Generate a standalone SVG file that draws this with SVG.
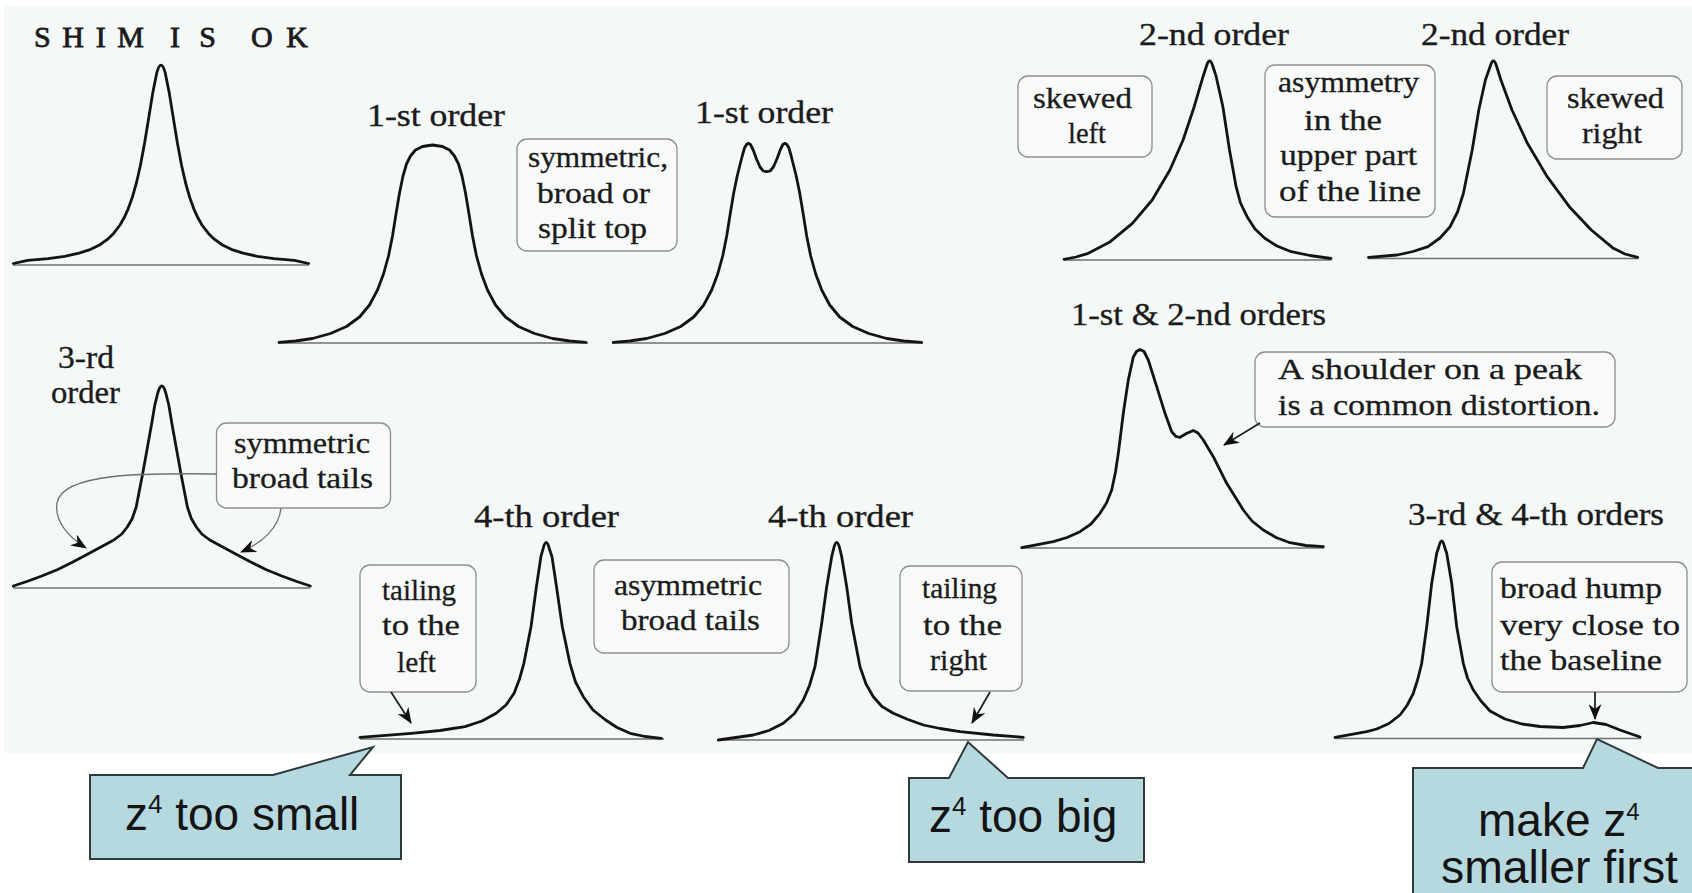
<svg xmlns="http://www.w3.org/2000/svg" width="1692" height="893" viewBox="0 0 1692 893">
<style>
.peak{fill:none;stroke:#141414;stroke-width:2.8;stroke-linejoin:round;stroke-linecap:round}
.base{stroke:#707070;stroke-width:1.4}
.lbl{font-family:"Liberation Serif","Times New Roman",serif;font-size:32px;fill:#1b1b1b;stroke:#1b1b1b;stroke-width:0.35}
.hd{font-family:"Liberation Serif","Times New Roman",serif;font-size:30px;fill:#1b1b1b;stroke:#1b1b1b;stroke-width:0.8}
.bx{fill:#f8faf9;stroke:#8e8e8e;stroke-width:1.3}
.bt{font-family:"Liberation Serif","Times New Roman",serif;font-size:29px;fill:#1b1b1b;stroke:#1b1b1b;stroke-width:0.3}
.call{fill:#b6d9e0;stroke:#2e3a3c;stroke-width:2;stroke-linejoin:miter}
.ct{font-family:"Liberation Sans",Arial,sans-serif;font-size:46px;fill:#141414}
.conn{fill:none;stroke:#222;stroke-width:1.8}
.conn2{fill:none;stroke:#707070;stroke-width:1.3}
</style>
<defs>
<marker id="arr" markerUnits="userSpaceOnUse" markerWidth="16" markerHeight="13" viewBox="0 0 16 13" refX="15" refY="6.5" orient="auto"><path d="M0,0 L16,6.5 L0,13 L5,6.5 z" fill="#111"/></marker>
</defs>
<rect x="0" y="0" width="1692" height="893" fill="#ffffff"/>
<rect x="4" y="6" width="1688" height="747" fill="#f4f8f7"/>

<g id="peak-ok">
<text class="hd" x="34" y="47" textLength="110">SHIM</text>
<text class="hd" x="170" y="47" textLength="46">IS</text>
<text class="hd" x="251" y="47" textLength="57">OK</text>
<line class="base" x1="13" y1="265" x2="309" y2="265"/>
<path class="peak" d="M13.4,263.5 L27.7,260.4 L48.2,258.6 L64.6,256.3 L79,253.2 L89.2,249.9 L99.5,245 L107.7,239.2 L113.8,233.2 L120,225 L124.1,217.8 L128.2,208.8 L132.3,197.4 L136.4,183 L140.5,165 L144.6,143 L148.7,117.9 L152.8,92.6 L156.9,72.3 Q161,58 165.1,72.3 L169.2,92.6 L173.3,117.9 L177.4,143 L181.5,165 L185.6,183 L189.7,197.4 L193.8,208.8 L197.9,217.8 L202,225 L208.2,233.2 L214.3,239.2 L222.5,245 L232.8,249.9 L243,253.2 L257.4,256.3 L273.8,258.6 L294.3,260.4 L308.6,263.5"/>
</g>

<g id="peak-1st-broad">
<text class="lbl" x="367" y="126" textLength="138" lengthAdjust="spacingAndGlyphs">1-st order</text>
<line class="base" x1="278" y1="343" x2="588" y2="343"/>
<path class="peak" d="M279,342.3 L295.5,341 L312.5,338.5 L330.5,333.5 L346.5,326.5 L359.5,317 L369.5,305 L377.5,290 L383.5,274 L388.5,256 L392.5,236 L396,214 L399.5,193 L403,176 L406.5,164 L410.5,156 L415.5,150 L422.5,146.5 L432.5,145 L442.5,146.5 L449.5,150 L454.5,156 L458.5,164 L462,176 L465.5,193 L469,214 L472.5,236 L476.5,256 L481.5,274 L487.5,290 L495.5,305 L505.5,317 L518.5,326.5 L534.5,333.5 L552.5,338.5 L569.5,341 L586,342.3"/>
</g>

<g id="box-split">
<rect class="bx" x="517" y="139" width="160" height="112" rx="10"/>
<text class="bt" x="528" y="167" textLength="140" lengthAdjust="spacingAndGlyphs">symmetric,</text>
<text class="bt" x="537" y="203" textLength="113" lengthAdjust="spacingAndGlyphs">broad or</text>
<text class="bt" x="538" y="238" textLength="109" lengthAdjust="spacingAndGlyphs">split top</text>
</g>

<g id="peak-1st-split">
<text class="lbl" x="695" y="123" textLength="138" lengthAdjust="spacingAndGlyphs">1-st order</text>
<line class="base" x1="612" y1="343" x2="923" y2="343"/>
<path class="peak" d="M613.2,342.3 L629.7,341 L646.7,338.5 L664.7,333.5 L680.7,326.5 L693.7,317 L703.7,305 L711.7,290 L717.7,274 L722.7,256 L726.7,236 L730.2,214 L733.7,193 L737.2,176 L740.2,164 L742.5,155 L744.5,148 L746.5,144.5 L748.4,143.3 L750.5,144.5 L753,149.5 L756.5,159 L760,167 L763.3,171 L766.7,171.7 L770.1,171 L773.4,167 L776.9,159 L780.4,149.5 L782.9,144.5 L785,143.3 L786.9,144.5 L788.9,148 L790.9,155 L793.2,164 L796.2,176 L799.7,193 L803.2,214 L806.7,236 L810.7,256 L815.7,274 L821.7,290 L829.7,305 L839.7,317 L852.7,326.5 L868.7,333.5 L886.7,338.5 L903.7,341 L921.7,342.3"/>
</g>

<g id="box-skewed-left">
<rect class="bx" x="1018" y="76" width="134" height="81" rx="10"/>
<text class="bt" x="1033" y="108" textLength="99" lengthAdjust="spacingAndGlyphs">skewed</text>
<text class="bt" x="1068" y="143" textLength="38" lengthAdjust="spacingAndGlyphs">left</text>
</g>

<g id="peak-2nd-left">
<text class="lbl" x="1139" y="45" textLength="150" lengthAdjust="spacingAndGlyphs">2-nd order</text>
<line class="base" x1="1064" y1="260" x2="1331" y2="260"/>
<path class="peak" d="M1064,259.3 L1076,257 L1088.3,253.3 L1110.3,241.7 L1132.4,223.3 L1152.2,200 L1169.9,170 L1183.1,140 L1194.2,106.7 L1203,76.7 L1206.5,66 Q1209.6,56 1212.8,66 L1216.2,76.7 L1222.9,106.7 L1229.5,150 L1236.1,186.7 L1240.5,203 L1247.1,216.7 L1255,229 L1264.8,238.3 L1277,246 L1291.3,251.7 L1310,255.5 L1331,258.5"/>
</g>

<g id="box-asymmetry">
<rect class="bx" x="1265" y="65" width="170" height="152" rx="10"/>
<text class="bt" x="1278" y="92" textLength="141" lengthAdjust="spacingAndGlyphs">asymmetry</text>
<text class="bt" x="1304" y="130" textLength="78" lengthAdjust="spacingAndGlyphs">in the</text>
<text class="bt" x="1280" y="165" textLength="137" lengthAdjust="spacingAndGlyphs">upper part</text>
<text class="bt" x="1279" y="201" textLength="142" lengthAdjust="spacingAndGlyphs">of the line</text>
</g>

<g id="peak-2nd-right">
<text class="lbl" x="1421" y="45" textLength="148" lengthAdjust="spacingAndGlyphs">2-nd order</text>
<line class="base" x1="1368" y1="258.5" x2="1638" y2="258.5"/>
<path class="peak" d="M1368.5,257.3 L1397.2,255 L1413,251.5 L1428,246.7 L1440,238 L1450.1,226.7 L1457.5,212 L1463.4,193.3 L1472.2,150 L1478.8,110 L1485.4,80 L1490.3,66 Q1493.4,56 1496.5,66 L1500.9,80 L1512,110 L1527.4,143.3 L1547.2,176.7 L1569.3,206.7 L1591.3,230 L1613.4,248.3 L1625,254 L1637.7,257.3"/>
</g>

<g id="box-skewed-right">
<rect class="bx" x="1547" y="76" width="135" height="83" rx="10"/>
<text class="bt" x="1567" y="108" textLength="97" lengthAdjust="spacingAndGlyphs">skewed</text>
<text class="bt" x="1582" y="143" textLength="60" lengthAdjust="spacingAndGlyphs">right</text>
</g>

<g id="peak-shoulder">
<text class="lbl" x="1071" y="325" textLength="255" lengthAdjust="spacingAndGlyphs">1-st &amp; 2-nd orders</text>
<line class="base" x1="1021" y1="548" x2="1324" y2="548"/>
<path class="peak" d="M1021.7,547.7 L1053.3,541.7 L1067,537.5 L1080,531.7 L1091,524 L1100,513.3 L1106.5,503 L1111.7,490 L1115.5,472 L1118.3,453.3 L1123.3,413.3 L1128.3,380 L1133.3,357 L1136.5,351.5 L1140,349.5 L1144,351.5 L1148.3,360 L1156.7,386.7 L1165,413.3 L1171.7,431.7 L1176,436.5 L1180,437.3 L1186.5,433.5 L1193.3,430.5 L1198,433 L1203.3,440 L1213.3,456.7 L1226.7,483.3 L1243.3,510 L1252,521 L1263.3,530 L1276,537.5 L1290,542.7 L1306,545.5 L1323.3,546.7"/>
</g>

<g id="box-shoulder">
<rect class="bx" x="1255" y="352" width="360" height="75" rx="10"/>
<text class="bt" x="1278" y="379" textLength="304" lengthAdjust="spacingAndGlyphs">A shoulder on a peak</text>
<text class="bt" x="1278" y="415" textLength="322" lengthAdjust="spacingAndGlyphs">is a common distortion.</text>
</g>

<g id="peak-3rd">
<text class="lbl" x="58" y="368" textLength="56" lengthAdjust="spacingAndGlyphs">3-rd</text>
<text class="lbl" x="51" y="403" textLength="69" lengthAdjust="spacingAndGlyphs">order</text>
<line class="base" x1="13" y1="588" x2="310" y2="588"/>
<path class="peak" d="M13.3,586 L26.8,581.5 L41.8,576 L57.8,569.5 L73.8,561.5 L89.8,553 L101.8,546.5 L113.8,540 L121.8,534 L127.3,527 L132.3,518.5 L136.2,507 L139.3,491 L142.8,473 L147.3,448 L151.8,423 L154.8,405 L157.8,393 Q161.8,379 165.8,393 L168.8,405 L171.8,423 L176.3,448 L180.8,473 L184.3,491 L187.4,507 L191.3,518.5 L196.3,527 L201.8,534 L209.8,540 L221.8,546.5 L233.8,553 L249.8,561.5 L265.8,569.5 L281.8,576 L296.8,581.5 L310.3,586"/>
</g>

<g id="box-sym-tails">
<rect class="bx" x="216.5" y="423" width="174" height="85" rx="10"/>
<text class="bt" x="234" y="453" textLength="136" lengthAdjust="spacingAndGlyphs">symmetric</text>
<text class="bt" x="232" y="488" textLength="141" lengthAdjust="spacingAndGlyphs">broad tails</text>
</g>

<g id="box-tail-left">
<rect class="bx" x="360" y="565" width="116" height="127" rx="10"/>
<text class="bt" x="382" y="600" textLength="74" lengthAdjust="spacingAndGlyphs">tailing</text>
<text class="bt" x="382" y="635" textLength="78" lengthAdjust="spacingAndGlyphs">to the</text>
<text class="bt" x="397" y="672" textLength="39" lengthAdjust="spacingAndGlyphs">left</text>
</g>

<g id="peak-4th-left">
<text class="lbl" x="474" y="527" textLength="145" lengthAdjust="spacingAndGlyphs">4-th order</text>
<line class="base" x1="360" y1="739" x2="664" y2="739"/>
<path class="peak" d="M360,737.3 L411.4,733.3 L440,730.5 L465,726.7 L482,721 L496.2,713.3 L506,705 L514.1,693.3 L519.5,679 L523.9,663.3 L531,626.7 L536.4,586.7 L540.9,556.7 L543.3,548 Q546.2,537 549.1,548 L552,556.7 L556.5,586.7 L562.3,626.7 L569.9,663.3 L575.5,682 L583.3,696.7 L593,710 L605.6,720 L617,727.5 L630.2,733.3 L645,736.5 L661.4,738.3"/>
</g>

<g id="box-asym-tails">
<rect class="bx" x="594" y="560" width="195" height="93" rx="10"/>
<text class="bt" x="614" y="595" textLength="148" lengthAdjust="spacingAndGlyphs">asymmetric</text>
<text class="bt" x="621" y="630" textLength="139" lengthAdjust="spacingAndGlyphs">broad tails</text>
</g>

<g id="peak-4th-right">
<text class="lbl" x="768" y="527" textLength="145" lengthAdjust="spacingAndGlyphs">4-th order</text>
<line class="base" x1="718" y1="740" x2="1024" y2="740"/>
<path class="peak" d="M718.3,740 L753.3,735 L769,730.5 L783.3,723.3 L794.5,713.5 L803.3,700 L809.5,685.5 L815,666.7 L821.7,623.3 L826.7,586.7 L831.7,556.7 L833.8,548 Q836.7,537 839.6,548 L841.7,556.7 L846.7,586.7 L851.7,623.3 L860,666.7 L866,684 L873.3,696.7 L882,706.5 L893.3,713.3 L908,719.5 L923.3,725 L940,728.5 L960,731.7 L993.3,735 L1023.3,737.3"/>
</g>

<g id="box-tail-right">
<rect class="bx" x="900" y="566" width="122" height="125" rx="10"/>
<text class="bt" x="922" y="598" textLength="75" lengthAdjust="spacingAndGlyphs">tailing</text>
<text class="bt" x="923" y="635" textLength="79" lengthAdjust="spacingAndGlyphs">to the</text>
<text class="bt" x="930" y="670" textLength="57" lengthAdjust="spacingAndGlyphs">right</text>
</g>

<g id="peak-3rd-4th">
<text class="lbl" x="1408" y="525" textLength="256" lengthAdjust="spacingAndGlyphs">3-rd &amp; 4-th orders</text>
<line class="base" x1="1335" y1="738.5" x2="1641" y2="738.5"/>
<path class="peak" d="M1335,737.3 L1366.7,731.7 L1376.7,729 L1389,723.5 L1400,715 L1407,705.5 L1413.3,693.3 L1417.7,679.5 L1421.7,663.3 L1426.7,626.7 L1431.7,583.3 L1436.7,553.3 L1438.8,547 Q1441.7,535 1444.6,547 L1446.7,553.3 L1451.7,583.3 L1456.7,626.7 L1463.3,663.3 L1467.5,678 L1473.3,690 L1481,701 L1490,711 L1505,719 L1522,724 L1540,726.5 L1563,727.5 L1580,725.5 L1593.3,722.5 L1606,724.5 L1620,730 L1640,737"/>
</g>

<g id="box-hump">
<rect class="bx" x="1492" y="562" width="195" height="130" rx="10"/>
<text class="bt" x="1500" y="598" textLength="162" lengthAdjust="spacingAndGlyphs">broad hump</text>
<text class="bt" x="1500" y="635" textLength="180" lengthAdjust="spacingAndGlyphs">very close to</text>
<text class="bt" x="1500" y="670" textLength="162" lengthAdjust="spacingAndGlyphs">the baseline</text>
</g>

<g id="connectors">
<path class="conn2" d="M217,474 C150,473 62,472 57,503 C54,522 70,538 86,548" marker-end="url(#arr)"/>
<path class="conn2" d="M281,508 C279,528 262,543 241,552" marker-end="url(#arr)"/>
<path class="conn" d="M391,692 L411,723" marker-end="url(#arr)"/>
<path class="conn" d="M990,692 L972,723" marker-end="url(#arr)"/>
<path class="conn" d="M1260,423 L1224,445" marker-end="url(#arr)"/>
<path class="conn" d="M1595,692 L1595,719" marker-end="url(#arr)"/>
</g>

<g id="callout-small">
<polygon class="call" points="90,775 273,775 373,747 350,775 401,775 401,859 90,859"/>
<text class="ct" x="125" y="830">z<tspan font-size="26" dy="-17">4</tspan><tspan dy="17"> too small</tspan></text>
</g>

<g id="callout-big">
<polygon class="call" points="909,778 949,778 968,742 1008,778 1144,778 1144,862 909,862"/>
<text class="ct" x="929" y="832">z<tspan font-size="26" dy="-17">4</tspan><tspan dy="17"> too big</tspan></text>
</g>

<g id="callout-first">
<polygon class="call" points="1413,768 1583,768 1597,739 1658,768 1700,768 1700,900 1413,900"/>
<text class="ct" x="1478" y="836" font-size="42">make z<tspan font-size="24" dy="-16">4</tspan></text>
<text class="ct" x="1441" y="883" font-size="42" textLength="237" lengthAdjust="spacingAndGlyphs">smaller first</text>
</g>
</svg>
